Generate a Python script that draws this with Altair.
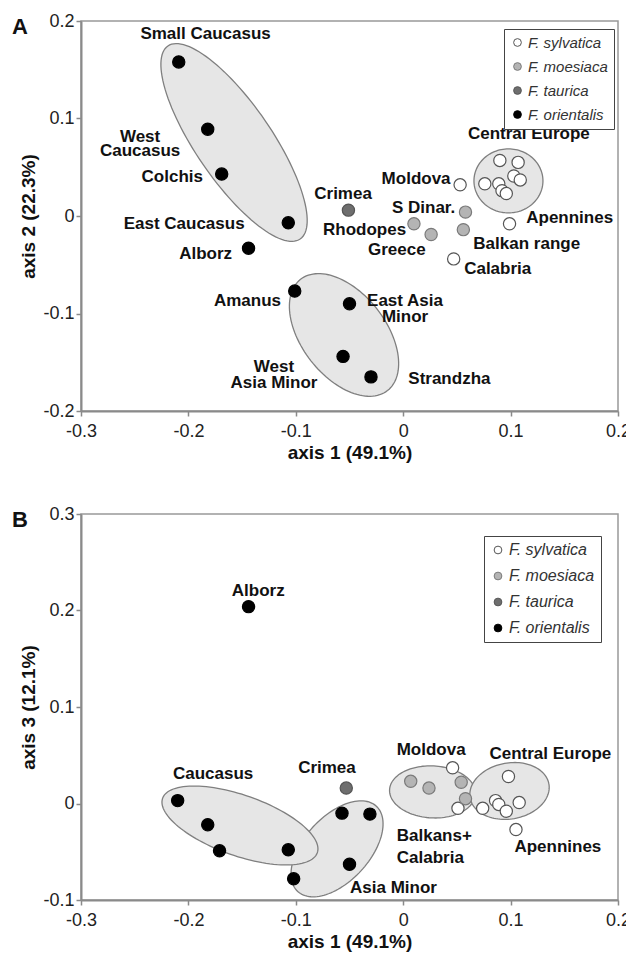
import altair as alt
import numpy as np
import pandas as pd

SPECIES = ["F. sylvatica", "F. moesiaca", "F. taurica", "F. orientalis"]
FILLS = ["#ffffff", "#b4b4b4", "#6e6e6e", "#000000"]
STROKES = ["#555555", "#7a7a7a", "#555555", "#000000"]

X_TICKS = [-0.3, -0.2, -0.1, 0, 0.1, 0.2]

# ---------------- Panel A (axis 1 vs axis 2) ----------------
a_species = (["F. sylvatica"] * 11 + ["F. moesiaca"] * 4 + ["F. taurica"] + ["F. orientalis"] * 9)
a_x = [0.053, 0.099, 0.047, 0.090, 0.107, 0.076, 0.089, 0.103, 0.109, 0.092, 0.096,
       0.010, 0.026, 0.058, 0.056,
       -0.051,
       -0.209, -0.182, -0.169, -0.107, -0.144, -0.101, -0.050, -0.056, -0.030]
a_y = [0.032, -0.008, -0.044, 0.057, 0.055, 0.033, 0.033, 0.041, 0.037, 0.026, 0.023,
       -0.008, -0.019, 0.004, -0.014,
       0.006,
       0.158, 0.089, 0.043, -0.007, -0.033, -0.077, -0.090, -0.144, -0.165]

# single-line labels (centred)
a_lab_text = ["Small Caucasus", "Colchis", "East Caucasus", "Alborz", "Amanus", "Strandzha",
              "Crimea", "Moldova", "S Dinar.", "Rhodopes", "Greece", "Balkan range", "Calabria",
              "Apennines", "Central Europe"]
a_lab_x = [-0.184, -0.215, -0.204, -0.184, -0.145, 0.043, -0.056, 0.012, 0.019, -0.036,
           -0.006, 0.115, 0.088, 0.155, 0.117]
a_lab_y = [0.187, 0.040, -0.008, -0.039, -0.087, -0.167, 0.023, 0.038, 0.008, -0.014,
           -0.035, -0.029, -0.054, -0.002, 0.084]
# two-line labels (centred)
a_lab2_text = ["West\nCaucasus", "East Asia\nMinor", "West\nAsia Minor"]
a_lab2_x = [-0.245, 0.0017, -0.1203]
a_lab2_y = [0.081, -0.0867, -0.1544]
a_lab2_lh = [14, 16, 16]

# ellipses: centre (data units), semi-axes (px), rotation (deg, screen)
a_ell_cx = [-0.0551, -0.1575, 0.098]
a_ell_cy = [-0.122, 0.0754, 0.036]
a_ell_a = [70.6, 117, 34.5]
a_ell_b = [42, 38, 32]
a_ell_ang = [52, 55.6, 0]

# ---------------- Panel B (axis 1 vs axis 3) ----------------
b_species = (["F. sylvatica"] * 9 + ["F. moesiaca"] * 4 + ["F. taurica"] + ["F. orientalis"] * 9)
b_x = [0.046, 0.051, 0.074, 0.098, 0.086, 0.089, 0.096, 0.108, 0.105,
       0.007, 0.024, 0.054, 0.058,
       -0.053,
       -0.144, -0.210, -0.182, -0.171, -0.107, -0.102, -0.057, -0.031, -0.050]
b_y = [0.037, -0.005, -0.005, 0.028, 0.003, -0.001, -0.008, 0.001, -0.027,
       0.023, 0.016, 0.022, 0.005,
       0.016,
       0.204, 0.003, -0.022, -0.049, -0.048, -0.078, -0.010, -0.011, -0.063]

b_lab_text = ["Alborz", "Caucasus", "Crimea", "Moldova", "Central Europe", "Apennines", "Asia Minor"]
b_lab_x = [-0.135, -0.177, -0.071, 0.026, 0.137, 0.144, -0.009]
b_lab_y = [0.220, 0.031, 0.037, 0.055, 0.051, -0.045, -0.088]
b_lab_left_text = ["Balkans+\nCalabria"]
b_lab_left_x = [-0.006]
b_lab_left_y = [-0.0337]
b_lab_left_lh = [22]

b_ell_cx = [-0.0616, -0.152, 0.0273, 0.099]
b_ell_cy = [-0.047, -0.0228, 0.012, 0.013]
b_ell_a = [58, 82, 43, 40]
b_ell_b = [32.5, 30.3, 26, 28]
b_ell_ang = [-47.3, 19.4, 3, -10]

W = 537
FONT = "Liberation Sans"


def ellipse_df(cx, cy, a, b, ang, sx, sy):
    t = np.linspace(0, 2 * np.pi, 121)
    th = np.radians(ang)
    dx = a * np.cos(t) * np.cos(th) - b * np.sin(t) * np.sin(th)
    dy = a * np.cos(t) * np.sin(th) + b * np.sin(t) * np.cos(th)
    return pd.DataFrame({"x": cx + dx / sx, "y": cy - dy / sy, "i": np.arange(len(t))})


def text_layer(texts, xs_, ys_, X, Y, align, line_height=None):
    df = pd.DataFrame({"label": texts, "x": xs_, "y": ys_})
    kw = dict(font=FONT, fontSize=17, fontWeight="bold", color="#111",
              baseline="middle", align=align, lineBreak="\n")
    if line_height is not None:
        kw["lineHeight"] = line_height
    return alt.Chart(df).mark_text(**kw).encode(x=X, y=Y, text="label:N")


def panel(letter, H, ydom, yticks, ytitle, sp, px, py, labs, labs2, labs_left, ells,
          legend_xy, legend_fs, row_pad):
    xs = alt.Scale(domain=[-0.3, 0.2], nice=False, zero=False)
    ys = alt.Scale(domain=ydom, nice=False, zero=False)
    lab_expr = "datum.value == 0 ? '0' : '' + datum.value"
    common = dict(domainColor="#8a8a8a", domainWidth=2, tickColor="#8a8a8a", tickWidth=1.5,
                  tickSize=5, labelFont=FONT, labelFontSize=18, labelColor="#222",
                  titleFont=FONT, titleFontSize=19, titleFontWeight="bold", titleColor="#111",
                  grid=False, labelExpr=lab_expr, labelFlush=False, labelOverlap=False)
    X = alt.X("x:Q", scale=xs, axis=alt.Axis(values=X_TICKS, title="axis 1 (49.1%)",
                                             labelPadding=6, titlePadding=3, **common))
    Y = alt.Y("y:Q", scale=ys, axis=alt.Axis(values=yticks, title=ytitle,
                                             labelPadding=2, titlePadding=4, **common))
    sx = W / 0.5
    sy = H / (ydom[1] - ydom[0])
    layers = []
    for (cx, cy, a, b, ang) in ells:
        df = ellipse_df(cx, cy, a, b, ang, sx, sy)
        layers.append(alt.Chart(df).mark_line(fill="#e6e6e6", stroke="#7f7f7f", strokeWidth=1.3,
                                              interpolate="linear")
                      .encode(x=X, y=Y, order="i:Q"))
    pts = pd.DataFrame({"species": sp, "x": px, "y": py})
    leg = dict(title=None, orient="none", legendX=legend_xy[0], legendY=legend_xy[1],
               strokeColor="#444", fillColor="white", padding=6, labelFont=FONT,
               labelFontStyle="italic", labelFontSize=legend_fs, labelColor="#333",
               symbolSize=60, symbolStrokeWidth=1, rowPadding=row_pad, symbolType="circle",
               labelOffset=3)
    layers.append(alt.Chart(pts).mark_circle(size=150, strokeWidth=1.2, opacity=1).encode(
        x=X, y=Y,
        fill=alt.Fill("species:N", scale=alt.Scale(domain=SPECIES, range=FILLS), legend=alt.Legend(**leg)),
        stroke=alt.Stroke("species:N", scale=alt.Scale(domain=SPECIES, range=STROKES), legend=alt.Legend(**leg)),
    ))
    layers.append(text_layer(labs[0], labs[1], labs[2], X, Y, "center"))
    if labs2:
        for t, x, y, lh in zip(*labs2):
            layers.append(text_layer([t], [x], [y], X, Y, "center", lh))
    if labs_left:
        for t, x, y, lh in zip(*labs_left):
            layers.append(text_layer([t], [x], [y], X, Y, "left", lh))
    layers.append(alt.Chart(pd.DataFrame({"t": [letter]})).mark_text(
        font=FONT, fontSize=22, fontWeight="bold", color="#111", align="left", baseline="middle")
        .encode(x=alt.value(-69), y=alt.value(6), text="t:N"))
    return alt.layer(*layers).properties(width=W, height=H)


pA = panel("A", 390, [-0.2, 0.2], [-0.2, -0.1, 0, 0.1, 0.2], "axis 2 (22.3%)",
           a_species, a_x, a_y, (a_lab_text, a_lab_x, a_lab_y),
           (a_lab2_text, a_lab2_x, a_lab2_y, a_lab2_lh), None,
           list(zip(a_ell_cx, a_ell_cy, a_ell_a, a_ell_b, a_ell_ang)), (423, 8), 15, 8)
pB = panel("B", 386, [-0.1, 0.3], [-0.1, 0, 0.1, 0.2, 0.3], "axis 3 (12.1%)",
           b_species, b_x, b_y, (b_lab_text, b_lab_x, b_lab_y), None,
           (b_lab_left_text, b_lab_left_x, b_lab_left_y, b_lab_left_lh),
           list(zip(b_ell_cx, b_ell_cy, b_ell_a, b_ell_b, b_ell_ang)), (403, 22), 16, 10)

chart = (alt.vconcat(pA, pB, spacing=41)
         .resolve_scale(x="independent", y="independent", fill="independent", stroke="independent")
         .resolve_legend(fill="independent", stroke="independent")
         .configure_view(stroke="#999999", strokeWidth=1.5)
         .properties(padding={"left": 3, "top": 3, "right": -6, "bottom": 0}, background="white"))

chart.save("out.html", embed_options={"renderer": "svg", "actions": False})
